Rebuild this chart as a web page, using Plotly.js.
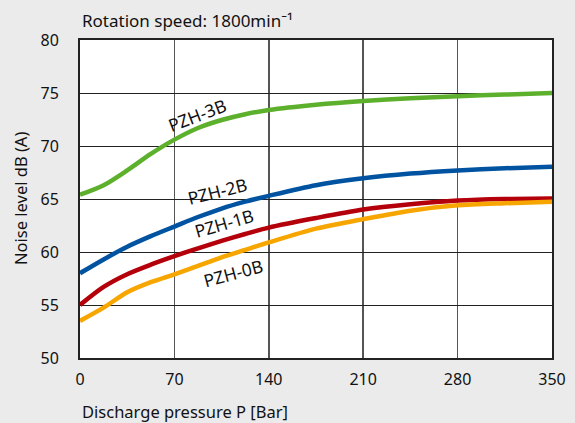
<!DOCTYPE html>
<html>
<head>
<meta charset="utf-8">
<script src="https://cdn.plot.ly/plotly-3.0.1.min.js"></script>
<style>
html,body{margin:0;padding:0;background:#ebebeb;}
#chart{width:575px;height:423px;}
</style>
</head>
<body>
<div id="chart"></div>
<script>
var pressure = [0, 17.5, 35, 52.5, 70, 87.5, 105, 122.5, 140, 175, 210, 245, 280, 315, 350];
var pzh3b = [65.4, 66.3, 67.7, 69.25, 70.6, 71.7, 72.45, 73.0, 73.4, 73.9, 74.25, 74.5, 74.7, 74.85, 75.0];
var pzh2b = [58.0, 59.3, 60.5, 61.5, 62.4, 63.3, 64.1, 64.75, 65.3, 66.3, 66.95, 67.4, 67.7, 67.9, 68.05];
var pzh1b = [55.0, 56.7, 57.9, 58.8, 59.6, 60.35, 61.05, 61.7, 62.3, 63.2, 64.0, 64.5, 64.85, 65.0, 65.05];
var pzh0b = [53.5, 54.75, 56.2, 57.15, 57.9, 58.7, 59.5, 60.2, 60.9, 62.2, 63.1, 63.9, 64.4, 64.6, 64.75];
var seriesNames = ["PZH-3B", "PZH-2B", "PZH-1B", "PZH-0B"];
var xTicks = [0, 70, 140, 210, 280, 350];
var yTicks = [50, 55, 60, 65, 70, 75, 80];

var colors = ["#5cb02c", "#0053a0", "#b4000a", "#f7a600"];
var values = [pzh3b, pzh2b, pzh1b, pzh0b];
var FONT = "Noto Sans, Open Sans, sans-serif";

var traces = values.map(function(v, i){
  return {x: pressure, y: v, type: "scatter", mode: "lines", name: seriesNames[i],
    line: {color: colors[i], width: 4.5, shape: "spline", smoothing: 0.8},
    hoverinfo: "skip", cliponaxis: false};
});

var labelPos = [
  {x: 86.7, y: 72.9, a: -21},
  {x: 101.8, y: 65.8, a: -14},
  {x: 106.8, y: 62.7, a: -16},
  {x: 113.2, y: 58.0, a: -15}
];

var annotations = labelPos.map(function(p, i){
  return {x: p.x, y: p.y, xref: "x", yref: "y", text: seriesNames[i], showarrow: false,
    textangle: p.a, font: {family: FONT, size: 17.5, color: "#111"}};
});
annotations.push({xref: "paper", yref: "paper", x: 0, y: 1, yshift: 20, xanchor: "left", yanchor: "middle",
  text: "Rotation speed: 1800min⁻¹", showarrow: false, font: {family: FONT, size: 17, color: "#111"}});
annotations.push({xref: "paper", yref: "paper", x: 0, y: 0, yshift: -53, xanchor: "left", yanchor: "middle",
  text: "Discharge pressure P [Bar]", showarrow: false, font: {family: FONT, size: 16.5, color: "#111"}});
annotations.push({xref: "paper", yref: "paper", x: 0, xshift: -60, y: 0.5, xanchor: "center", yanchor: "middle",
  text: "Noise level dB (A)", textangle: -90, showarrow: false, font: {family: FONT, size: 16.5, color: "#111"}});

var layout = {
  width: 575, height: 423,
  margin: {l: 80, r: 23, t: 40, b: 65},
  paper_bgcolor: "#ebebeb", plot_bgcolor: "#ffffff",
  showlegend: false,
  font: {family: FONT, size: 16, color: "#111"},
  xaxis: {range: [0, 350], tickvals: xTicks, ticktext: xTicks.map(String), showgrid: true,
    gridcolor: "#555", gridwidth: 1.5, zeroline: false, showline: true, linecolor: "#222",
    linewidth: 2, mirror: true, ticks: "", ticklabelstandoff: 6, fixedrange: true,
    tickfont: {family: FONT, size: 16, color: "#111"}},
  yaxis: {range: [50, 80], tickvals: yTicks, ticktext: yTicks.map(String), showgrid: true,
    gridcolor: "#222", gridwidth: 1, zeroline: false, showline: true, linecolor: "#222",
    linewidth: 2, mirror: true, ticks: "", ticklabelstandoff: 16, fixedrange: true,
    tickfont: {family: FONT, size: 16, color: "#111"}},
  annotations: annotations
};

Plotly.newPlot("chart", traces, layout, {displayModeBar: false, staticPlot: true});
</script>
</body>
</html>
